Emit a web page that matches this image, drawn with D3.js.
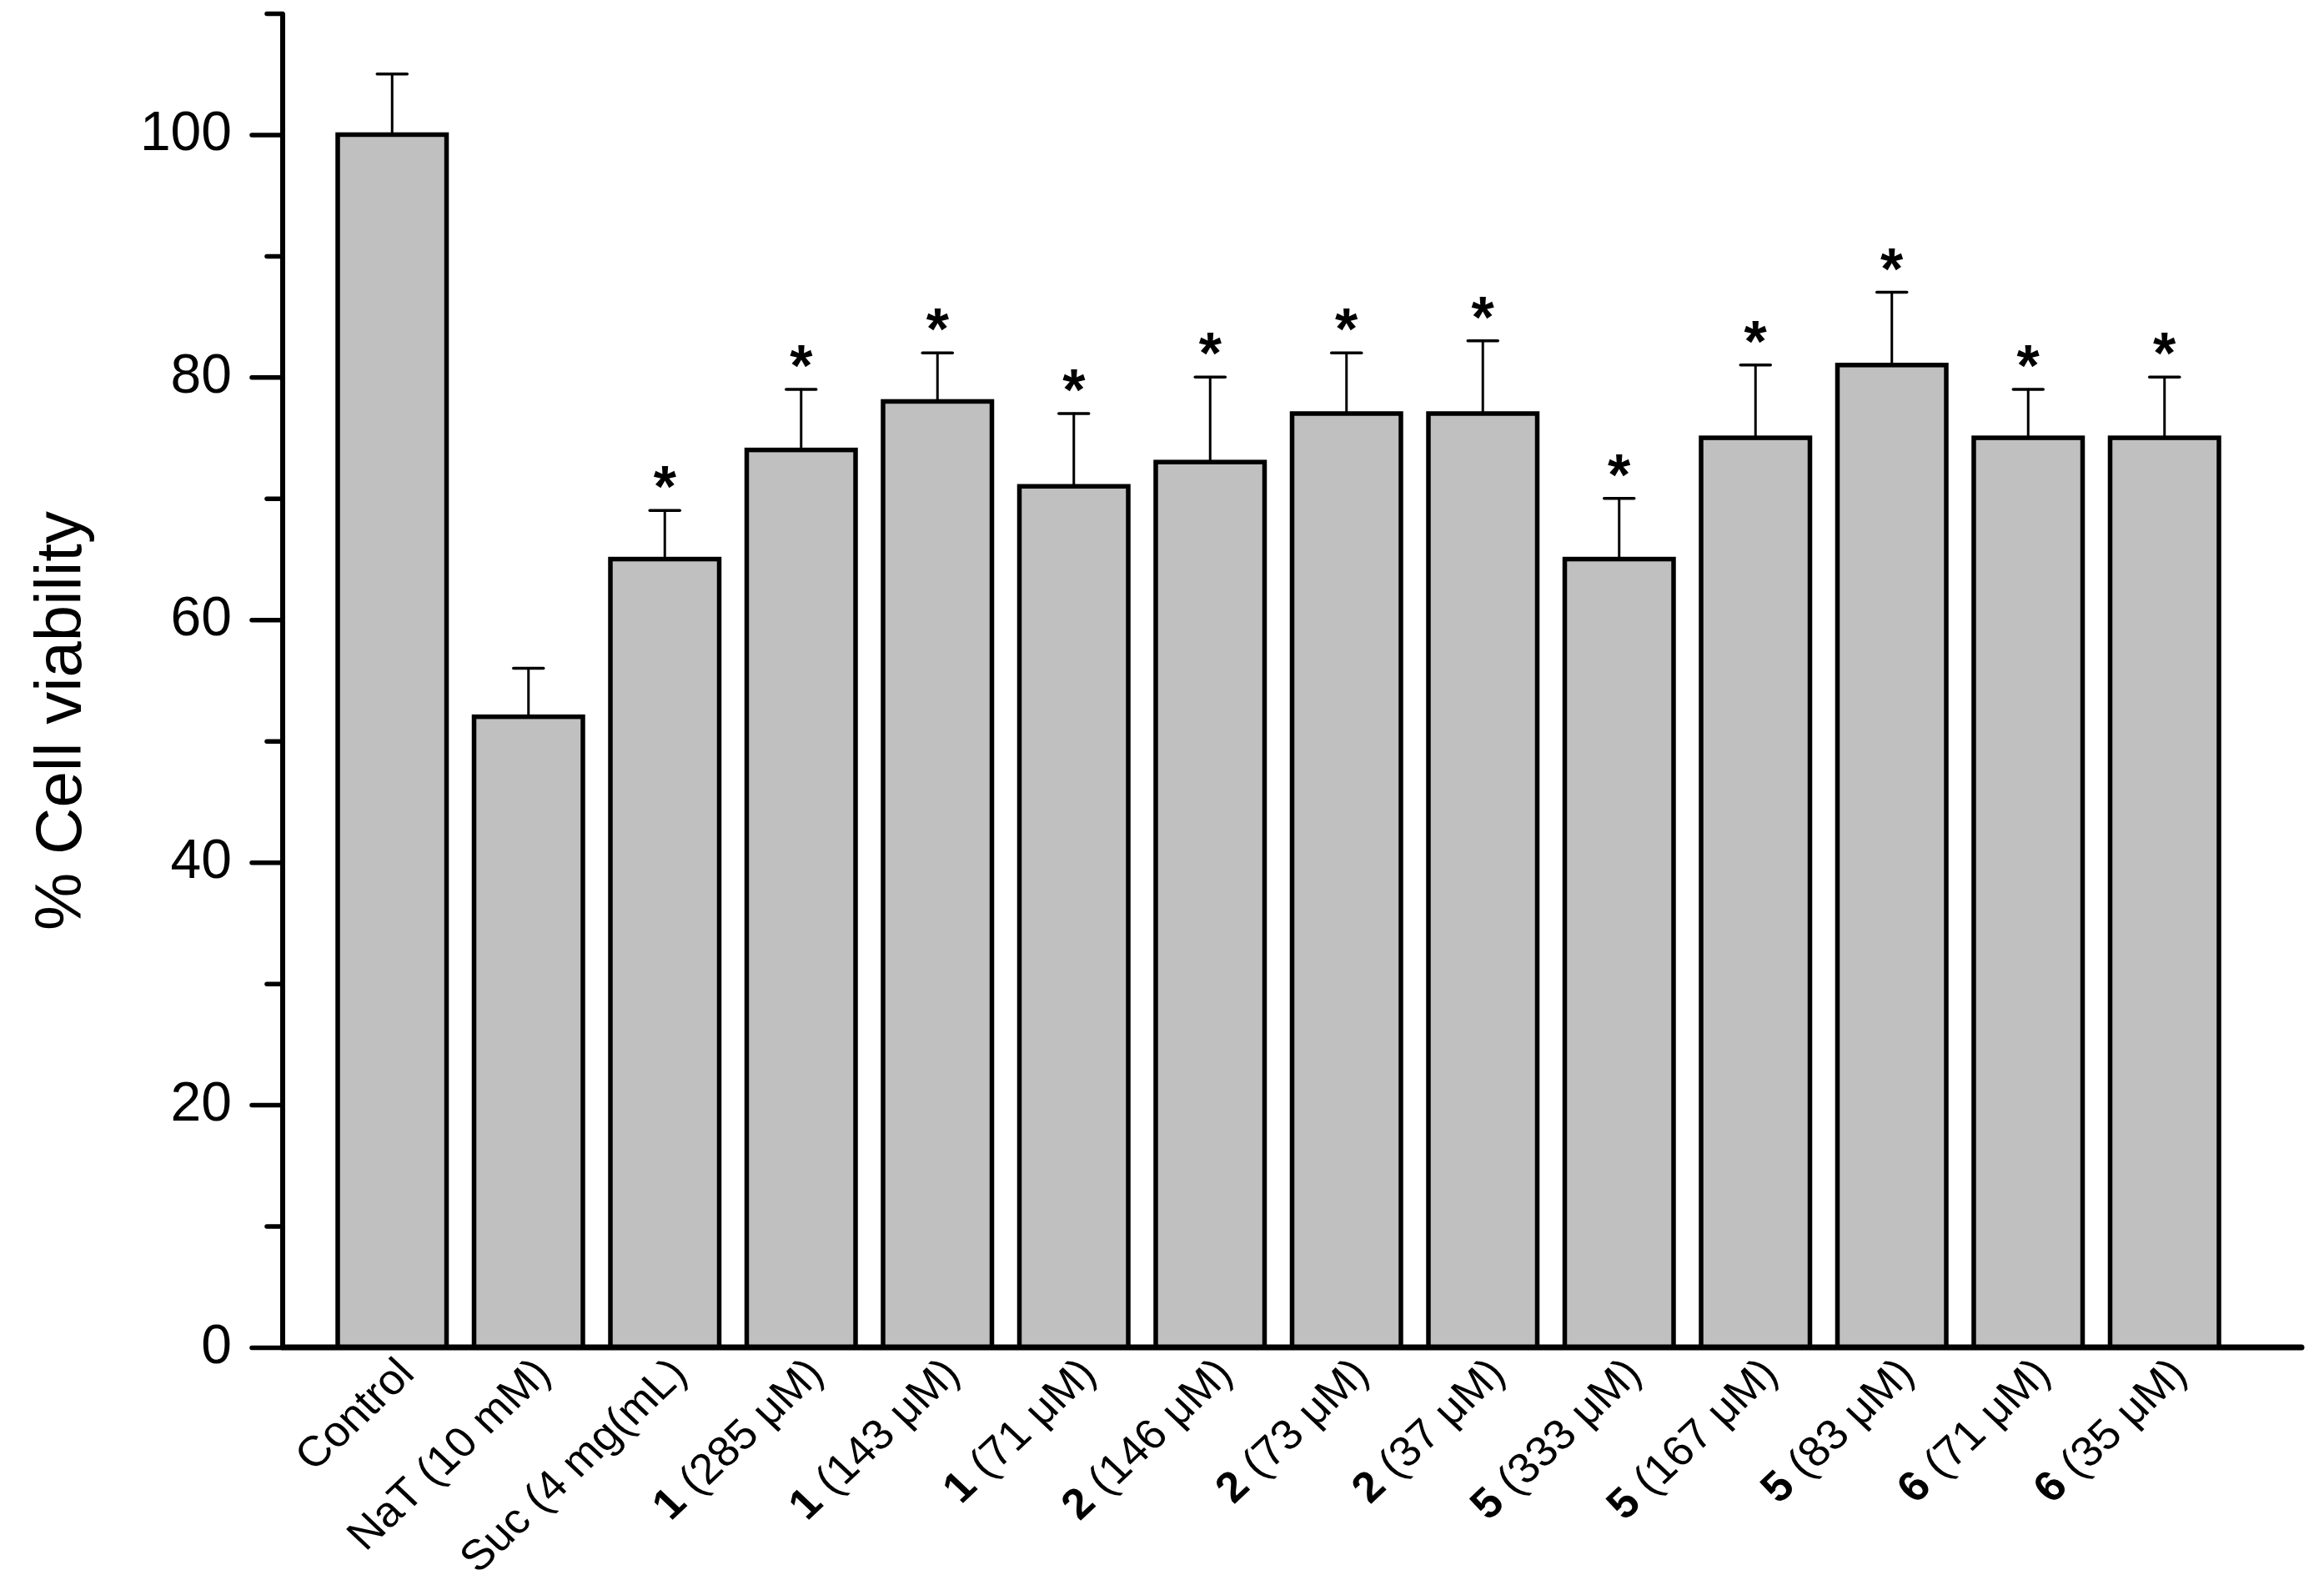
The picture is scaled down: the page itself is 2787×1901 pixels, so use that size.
<!DOCTYPE html>
<html><head><meta charset="utf-8">
<script src="https://cdn.jsdelivr.net/npm/d3@7"></script>
<style>
html,body{margin:0;padding:0;background:#fff;}
svg{display:block;}
text{font-family:"Liberation Sans", Arial, sans-serif;fill:#000;}
</style></head>
<body>
<script>
// ---- data ----
const categories = ["Control","NaT (10 mM)","Suc (4 mg(mL)","1 (285 μM)","1 (143 μM)","1 (71 μM)","2 (146 μM)","2 (73 μM)","2 (37 μM)","5 (333 μM)","5 (167 μM)","5 (83 μM)","6 (71 μM)","6 (35 μM)"];
const labelBold = ["","","","1","1","1","2","2","2","5","5","5","6","6"];
const labelRest = ["Control","NaT (10 mM)","Suc (4 mg(mL)"," (285 μM)"," (143 μM)"," (71 μM)"," (146 μM)"," (73 μM)"," (37 μM)"," (333 μM)"," (167 μM)"," (83 μM)"," (71 μM)"," (35 μM)"];
const viability = [100,52,65,74,78,71,73,77,77,65,75,81,75,75];
const errorTop = [105,56,69,79,82,77,80,82,83,70,81,87,79,80];
const significant = [false,false,true,true,true,true,true,true,true,true,true,true,true,true];
const majorTicks = [0,20,40,60,80,100];
const minorTicks = [10,30,50,70,90,110];
const yTitle = "% Cell viability";

// ---- layout ----
const W = 2787, H = 1901;
const axisX = 339, axisY = 1616, yTopPx = 16, xEnd = 2760;
const barLeft = 405, barRight = 2661;

const svg = d3.select("body").append("svg").attr("width", W).attr("height", H);

const x = d3.scaleBand().domain(categories).range([barLeft, barRight]).paddingInner(0.2018).paddingOuter(0);
const y = d3.scaleLinear().domain([0, 110]).range([axisY, yTopPx]);

// bars
svg.append("g").selectAll("rect").data(categories).join("rect")
  .attr("x", d => x(d)).attr("width", x.bandwidth())
  .attr("y", (d,i) => y(viability[i])).attr("height", (d,i) => axisY - y(viability[i]))
  .attr("fill", "#c0c0c0").attr("stroke", "#000").attr("stroke-width", 5.5);

// error bars
const eg = svg.append("g").attr("stroke", "#000").attr("stroke-linecap", "round");
categories.forEach((c, i) => {
  const cx = x(c) + x.bandwidth() / 2;
  eg.append("line").attr("x1", cx).attr("x2", cx).attr("y1", y(viability[i]) - 2).attr("y2", y(errorTop[i])).attr("stroke-width", 3);
  eg.append("line").attr("x1", cx - 18).attr("x2", cx + 18).attr("y1", y(errorTop[i])).attr("y2", y(errorTop[i])).attr("stroke-width", 3.5);
  if (significant[i]) {
    svg.append("text").attr("x", cx).attr("y", y(errorTop[i]) - 4)
      .attr("text-anchor", "middle").attr("font-size", 70).attr("font-weight", "bold").text("*");
  }
});

// y axis major
const yMajor = svg.append("g").attr("transform", `translate(${axisX},0)`)
  .call(d3.axisLeft(y).tickValues(majorTicks).tickSize(37).tickSizeOuter(0).tickPadding(24));
yMajor.select(".domain").remove();
yMajor.selectAll(".tick line").attr("stroke", "#000").attr("stroke-width", 5.5).attr("stroke-linecap", "round");
yMajor.selectAll(".tick text").attr("font-size", 66).attr("font-family", "Liberation Sans, Arial, sans-serif").attr("dy", "0.28em");

// y axis minor
const yMinor = svg.append("g").attr("transform", `translate(${axisX},0)`)
  .call(d3.axisLeft(y).tickValues(minorTicks).tickSize(19).tickSizeOuter(0).tickFormat(""));
yMinor.select(".domain").remove();
yMinor.selectAll(".tick line").attr("stroke", "#000").attr("stroke-width", 5.5).attr("stroke-linecap", "round");

// axis lines
svg.append("line").attr("x1", axisX).attr("x2", axisX).attr("y1", y(110)).attr("y2", axisY + 3)
  .attr("stroke", "#000").attr("stroke-width", 6);
svg.append("line").attr("x1", axisX).attr("x2", xEnd).attr("y1", axisY).attr("y2", axisY)
  .attr("stroke", "#000").attr("stroke-width", 7).attr("stroke-linecap", "round");

// x axis labels
const xAx = svg.append("g").attr("transform", `translate(0,${axisY})`)
  .call(d3.axisBottom(x).tickSize(0).tickFormat(""));
xAx.select(".domain").remove();
xAx.selectAll(".tick").each(function(d) {
  const i = categories.indexOf(d);
  const t = d3.select(this).append("text")
    .attr("transform", "translate(29,34) scale(1.06,1) rotate(-45)")
    .attr("text-anchor", "end").attr("font-size", 51).attr("fill", "#000");
  if (labelBold[i]) t.append("tspan").attr("font-weight", "bold").text(labelBold[i]);
  t.append("tspan").text(labelRest[i]);
});

// y title
svg.append("text").attr("transform", `translate(97,${(613+1116)/2}) rotate(-90)`)
  .attr("text-anchor", "middle").attr("font-size", 78).text(yTitle);
</script>
</body></html>
